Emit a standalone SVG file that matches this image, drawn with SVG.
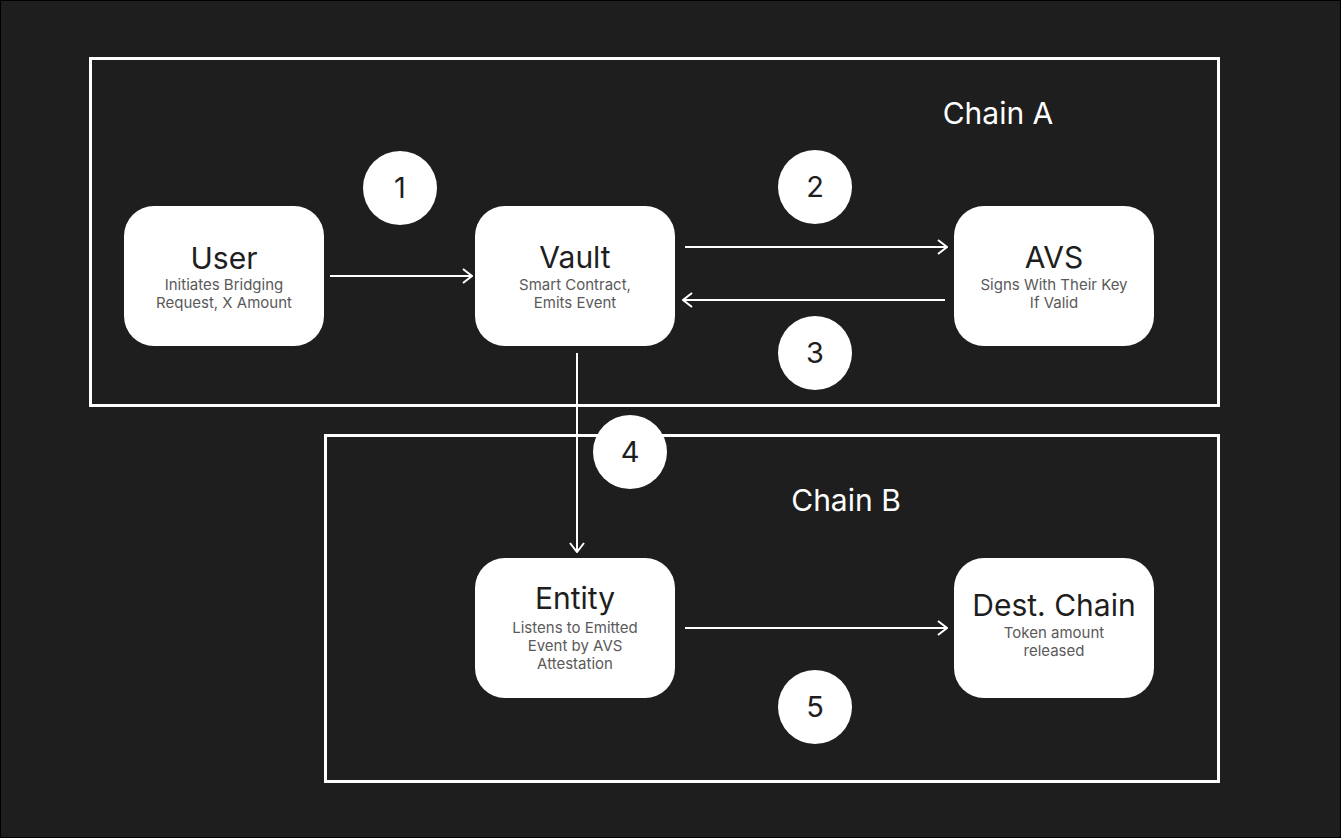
<svg xmlns="http://www.w3.org/2000/svg" width="1341" height="838" viewBox="0 0 1341 838">
<defs>
<marker id="arr" viewBox="0 0 12 16" refX="11" refY="8" markerWidth="12" markerHeight="16" markerUnits="userSpaceOnUse" orient="auto">
<path d="M2,1 L11,8 L2,15" fill="none" stroke="#ffffff" stroke-width="2"/>
</marker>
<style>
.bg{fill:#1e1e1e;stroke:#000;stroke-width:2}
.chain{fill:none;stroke:#ffffff;stroke-width:3}
.chainlbl{font-family:Inter,"Noto Sans",sans-serif;font-size:30px;fill:#ffffff;text-anchor:middle}
.node{fill:#ffffff}
.title{font-family:Inter,"Noto Sans",sans-serif;font-size:30px;fill:#1e1e1e;text-anchor:middle}
.sub{font-family:Inter,"Noto Sans",sans-serif;font-size:15px;fill:#5a5a5a;text-anchor:middle}
.step{fill:#ffffff}
.num{font-family:Inter,"Noto Sans",sans-serif;font-size:29px;fill:#1e1e1e;text-anchor:middle}
.conn{stroke:#ffffff;stroke-width:2;fill:none}
</style>
</defs>
<rect class="bg" x="0" y="0" width="1341" height="838"/>
<g id="chainA">
<rect class="chain" x="90.5" y="58.5" width="1128" height="347"/>
<text class="chainlbl" x="998" y="124">Chain A</text>
</g>
<g id="chainB">
<rect class="chain" x="325.5" y="435.5" width="893" height="346"/>
<text class="chainlbl" x="846" y="511">Chain B</text>
</g>
<g id="connectors">
<line class="conn" x1="330" y1="276" x2="472" y2="276" marker-end="url(#arr)"/>
<line class="conn" x1="685" y1="247" x2="947" y2="247" marker-end="url(#arr)"/>
<line class="conn" x1="945" y1="300" x2="683" y2="300" marker-end="url(#arr)"/>
<line class="conn" x1="577" y1="353" x2="577" y2="552" marker-end="url(#arr)"/>
<line class="conn" x1="685" y1="628" x2="947" y2="628" marker-end="url(#arr)"/>
</g>
<g id="user">
<rect class="node" x="124" y="206" width="200" height="140" rx="30"/>
<text class="title" x="224" y="269">User</text>
<text class="sub" x="224" y="290">Initiates Bridging</text>
<text class="sub" x="224" y="308">Request, X Amount</text>
</g>
<g id="vault">
<rect class="node" x="475" y="206" width="200" height="140" rx="30"/>
<text class="title" x="575" y="268">Vault</text>
<text class="sub" x="575" y="290">Smart Contract,</text>
<text class="sub" x="575" y="308">Emits Event</text>
</g>
<g id="avs">
<rect class="node" x="954" y="206" width="200" height="140" rx="30"/>
<text class="title" x="1054" y="268">AVS</text>
<text class="sub" x="1054" y="290">Signs With Their Key</text>
<text class="sub" x="1054" y="308">If Valid</text>
</g>
<g id="entity">
<rect class="node" x="475" y="558" width="200" height="140" rx="30"/>
<text class="title" x="575" y="609">Entity</text>
<text class="sub" x="575" y="633">Listens to Emitted</text>
<text class="sub" x="575" y="651">Event by AVS</text>
<text class="sub" x="575" y="669">Attestation</text>
</g>
<g id="dest">
<rect class="node" x="954" y="558" width="200" height="140" rx="30"/>
<text class="title" x="1054" y="616">Dest. Chain</text>
<text class="sub" x="1054" y="638">Token amount</text>
<text class="sub" x="1054" y="656">released</text>
</g>
<g id="step1"><circle class="step" cx="400" cy="188" r="37"/><text class="num" x="400" y="198">1</text></g>
<g id="step2"><circle class="step" cx="815" cy="187" r="37"/><text class="num" x="815" y="197">2</text></g>
<g id="step3"><circle class="step" cx="815" cy="353" r="37"/><text class="num" x="815" y="363">3</text></g>
<g id="step4"><circle class="step" cx="630" cy="452" r="37"/><text class="num" x="630" y="462">4</text></g>
<g id="step5"><circle class="step" cx="815" cy="707" r="37"/><text class="num" x="815" y="717">5</text></g>
</svg>
